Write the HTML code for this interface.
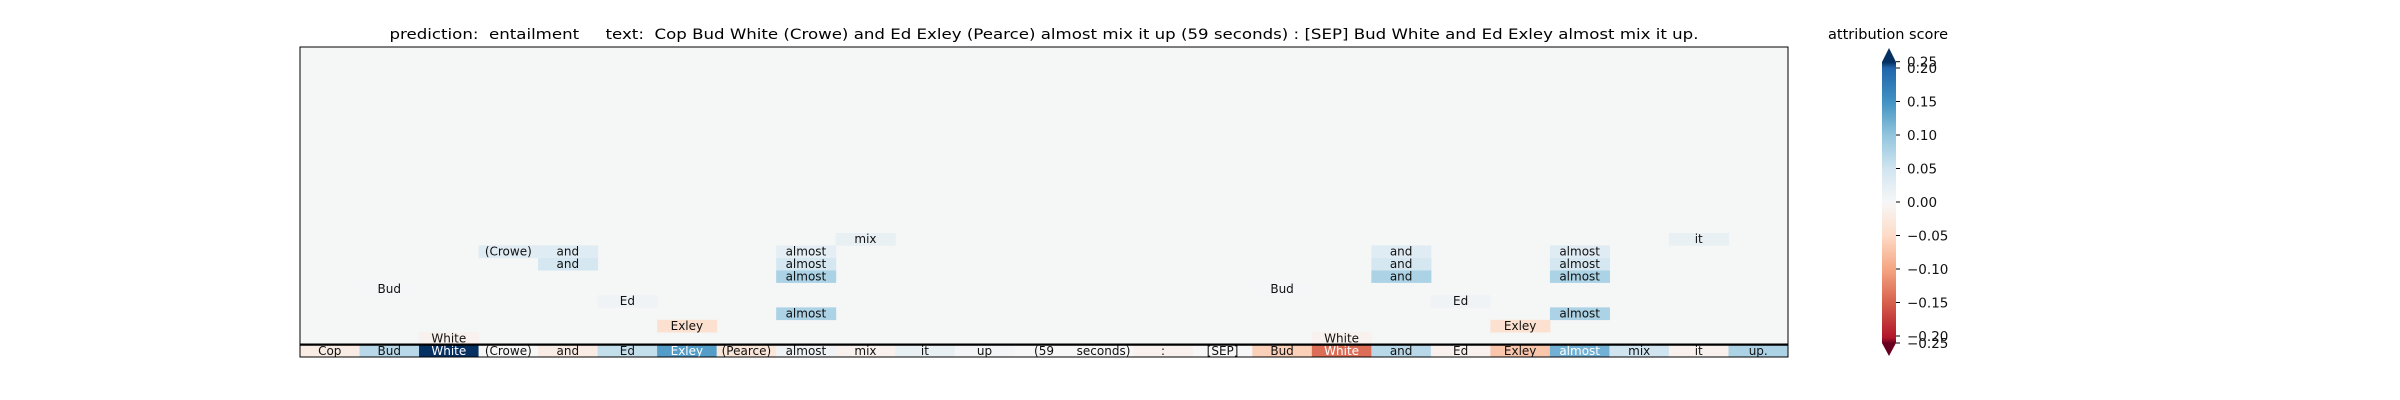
<!DOCTYPE html>
<html><head><meta charset="utf-8"><style>
html,body{margin:0;padding:0;background:#fff}
svg{display:block;font-family:"DejaVu Sans","Liberation Sans",sans-serif}
</style></head><body>
<svg id="chart" width="2400" height="400" viewBox="0 0 2400 400" xmlns="http://www.w3.org/2000/svg">
<text x="1044" y="39" text-anchor="middle" font-size="14.5" textLength="1309" lengthAdjust="spacingAndGlyphs" xml:space="preserve">prediction:  entailment     text:  Cop Bud White (Crowe) and Ed Exley (Pearce) almost mix it up (59 seconds) : [SEP] Bud White and Ed Exley almost mix it up.</text>
<text x="1888" y="39" text-anchor="middle" font-size="14.5">attribution score</text>
<g id="plot"></g>
<g id="cbar"></g>
</svg>
<script>
const tokens = ["Cop","Bud","White","(Crowe)","and","Ed","Exley","(Pearce)","almost","mix","it","up","(59","seconds)",":","[SEP]","Bud","White","and","Ed","Exley","almost","mix","it","up."];
const tokenScores = [-0.02,0.07,0.25,0.0,-0.02,0.06,0.14,-0.03,0.01,-0.01,0.02,0.005,0.0,0.0,-0.01,0.0,-0.06,-0.14,0.07,-0.01,-0.07,0.12,0.05,-0.01,0.08];
const cellRows = [1,1,2,2,3,3,4,4,5,5,6,6,6,7,7,7,7,8,8,8,8,8,9,9];
const cellCols = [2,17,6,20,8,21,5,19,1,16,8,18,21,4,8,18,21,3,4,8,18,21,9,23];
const cellValues = [-0.01,-0.01,-0.04,-0.04,0.08,0.08,0.01,0.01,0.003,0.003,0.08,0.08,0.08,0.045,0.045,0.045,0.045,0.03,0.03,0.025,0.03,0.03,0.02,0.02];
const cbTicks = [0.25,0.20,0.15,0.10,0.05,0.00,-0.05,-0.10,-0.15,-0.20,-0.25];

const NS="http://www.w3.org/2000/svg";
const stops=["#67001f","#b2182b","#d6604d","#f4a582","#fddbc7","#f7f7f7","#d1e5f0","#92c5de","#4393c3","#2166ac","#053061"];
function hex(h){return [1,3,5].map(i=>parseInt(h.substr(i,2),16));}
function cmap(v){let t=(v+0.25)/0.5;t=Math.max(0,Math.min(1,t));const p=t*10,i=Math.min(9,Math.floor(p)),f=p-i;const a=hex(stops[i]),b=hex(stops[i+1]);return "rgb("+a.map((c,k)=>Math.round(c+(b[k]-c)*f)).join(",")+")";}
const X0=300,X1=1788,Y0=47,Y1=357,NR=25;
const cw=(X1-X0)/tokens.length, rh=(Y1-Y0)/NR;
const xS=c=>X0+c*cw, yS=r=>Y1-(r+1)*rh;
function mk(tag,attrs,parent){const e=document.createElementNS(NS,tag);for(const k in attrs)e.setAttribute(k,attrs[k]);parent.appendChild(e);return e;}
const plot=document.getElementById("plot");
const bg=mk("rect",{x:X0,y:Y0,width:X1-X0,height:Y1-Y0,fill:"#f5f6f6"},plot);


function cell(r,c,v,label,name){
  const g=mk("g",{},plot);
  
  
  mk("rect",{x:xS(c),y:yS(r),width:cw+0.5,height:rh+0.3,fill:cmap(v)},g);
  const t=mk("text",{x:xS(c)+cw/2,y:yS(r)+rh/2+4,"text-anchor":"middle","font-size":"12",fill:Math.abs(v)>0.1?"#fff":"#111"},g);
  t.textContent=label;
}
tokens.forEach((tk,i)=>cell(0,i,tokenScores[i],tk,"token-cell"));
cellRows.forEach((r,i)=>cell(r,cellCols[i],cellValues[i],tokens[cellCols[i]],"attribution-cell"));
const sep=mk("line",{x1:X0,x2:X1,y1:yS(0),y2:yS(0),stroke:"#000","stroke-width":2.2},plot);


const fr=mk("rect",{x:X0,y:Y0,width:X1-X0,height:Y1-Y0,fill:"none",stroke:"#000","stroke-width":1},plot);



// colorbar
const cb=document.getElementById("cbar");
const BX=1882,BW=14;
function cbY(v){if(v>0.2)return 67.7-(v-0.2)/0.05*6;if(v<-0.2)return 337+(-0.2-v)/0.05*6;return 202-v*670;}
for(let y=62;y<343;y++){
  let v; if(y<67.7)v=0.2+(67.7-y)/6*0.05; else if(y>337)v=-0.2-(y-337)/6*0.05; else v=(202-y)/670;
  mk("rect",{x:BX,y:y,width:BW,height:1.2,fill:cmap(v)},cb);
}
const up=mk("polygon",{points:BX+","+62+" "+(BX+BW)+",62 "+(BX+BW/2)+",48",fill:"#053061"},cb);


const dn=mk("polygon",{points:BX+",343 "+(BX+BW)+",343 "+(BX+BW/2)+",356",fill:"#67001f"},cb);


cbTicks.forEach(v=>{
  const y=cbY(v);
  const tl=mk("line",{x1:BX+BW,x2:BX+BW+4,y1:y,y2:y,stroke:"#000","stroke-width":1},cb);
  
  
  const t=mk("text",{x:BX+BW+11,y:y+5,"font-size":"13.5",fill:"#111"},cb);
  
  
  t.textContent=(v<0?"\u2212":"")+Math.abs(v).toFixed(2);
});
</script>
</body></html>
